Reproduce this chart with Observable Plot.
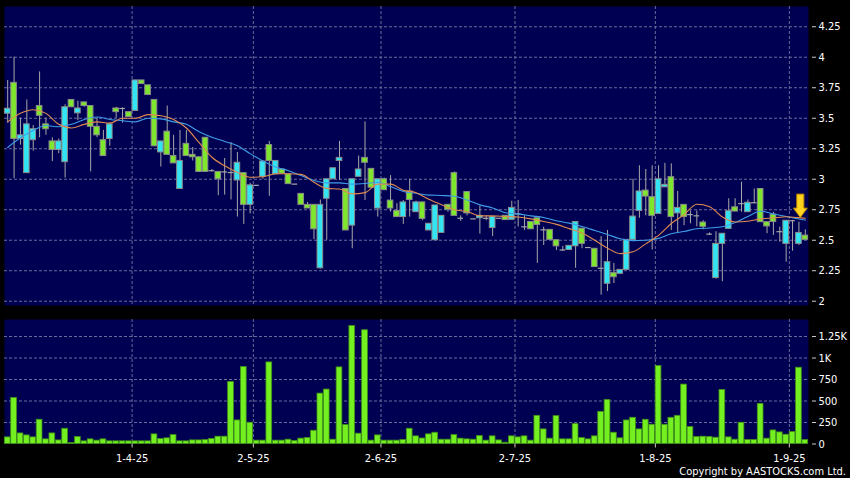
<!DOCTYPE html>
<html><head><meta charset="utf-8">
<script src="https://cdn.jsdelivr.net/npm/d3@7"></script>
<script src="https://cdn.jsdelivr.net/npm/@observablehq/plot@0.6"></script>
<style>
html,body{margin:0;padding:0;background:#000;}
#wrap{position:relative;width:850px;height:478px;background:#000;overflow:hidden;}
#price{position:absolute;left:0;top:0;}
#vol{position:absolute;left:0;top:310px;}
#copy{position:absolute;right:4px;top:466px;line-height:11px;color:#fff;font-size:11px;font-family:"DejaVu Sans Condensed","Liberation Sans",sans-serif;}
</style></head><body>
<div id="wrap"><div id="price"></div><div id="vol"></div><div id="copy">Copyright by AASTOCKS.com Ltd.</div></div>
<script>
// ---- data ----
const opens  = [3.537,3.79,3.33,3.05,3.32,3.60,3.45,3.31,3.24,3.14, 3.65,3.54,3.63,3.60,3.43,3.32,3.33,3.58,3.58,3.55, 3.56,3.81,3.77,3.65,3.22,3.39,3.19,2.92,3.29,3.20, 3.18,3.34,3.07,3.06,3.06,3.055,2.99,3.05,2.79,2.95, 3.02,3.28,3.04,3.08,3.04,2.96,2.88,2.79,2.79,2.27, 2.84,3.00,3.15,2.92,2.62,3.02,3.175,3.085,2.76,3.00, 2.825,2.74,2.69,2.90,2.73,2.81,2.58,2.50,2.56,2.79, 3.05,2.68,2.895,2.675,2.68,2.68,2.60,2.68,2.70,2.667, 2.715,2.61,2.65,2.68,2.585,2.585,2.50,2.42,2.42,2.45, 2.595,2.44,2.43,2.27,2.143,2.23,2.225,2.257,2.503,2.74, 2.907,2.853,2.716,2.934,3.017,2.72,2.79,2.71,2.70,2.645, 2.55,2.19,2.47,2.593,2.77,2.80,2.73,2.807,2.92,2.648, 2.71,2.57,2.47,2.66,2.47,2.538];
const highs  = [3.81,4.00,3.50,3.65,3.44,3.88,3.50,3.34,3.33,3.61, 3.65,3.64,3.63,3.60,3.50,3.40,3.46,3.59,3.585,3.55, 3.81,3.81,3.77,3.65,3.31,3.60,3.36,3.40,3.40,3.26, 3.18,3.34,3.08,3.06,3.17,3.30,3.22,3.05,2.967,2.95, 3.15,3.31,3.15,3.08,3.04,2.96,2.88,2.81,2.79,2.83, 3.00,3.09,3.31,2.92,3.00,3.19,3.47,3.085,3.00,3.01, 3.03,2.80,2.825,3.00,2.82,2.81,2.635,2.785,2.70,2.79, 3.06,2.70,2.895,2.675,2.78,2.70,2.69,2.68,2.70,2.82, 2.826,2.70,2.65,2.68,2.607,2.585,2.50,2.45,2.454,2.65, 2.595,2.44,2.43,2.53,2.58,2.31,2.26,2.503,3.00,3.11, 3.08,3.11,3.11,3.13,3.126,2.90,2.79,2.74,2.74,2.66, 2.56,2.57,2.553,2.84,2.84,2.975,2.83,2.92,2.92,2.648, 2.73,2.607,2.66,2.66,2.648,2.585];
const lows   = [3.46,3.005,3.28,3.05,3.23,3.34,3.36,3.145,3.21,3.01, 3.59,3.48,3.59,3.06,3.34,3.19,3.27,3.50,3.46,3.51, 3.56,3.78,3.69,3.27,3.10,3.20,3.13,2.92,3.19,3.15, 3.06,3.06,3.06,2.865,2.87,2.83,2.69,2.63,2.716,2.95, 3.00,2.86,3.04,3.04,2.96,2.96,2.79,2.76,2.505,2.265, 2.50,3.00,2.99,2.58,2.43,3.02,2.825,2.93,2.69,2.91, 2.73,2.69,2.63,2.69,2.73,2.66,2.58,2.50,2.56,2.73, 2.70,2.655,2.70,2.675,2.55,2.66,2.53,2.68,2.665,2.667, 2.608,2.58,2.59,2.31,2.457,2.503,2.415,2.41,2.42,2.27, 2.43,2.44,2.28,2.05,2.08,2.145,2.22,2.257,2.503,2.68, 2.70,2.42,2.716,2.934,2.58,2.56,2.62,2.634,2.61,2.585, 2.54,2.18,2.16,2.593,2.735,2.73,2.73,2.80,2.648,2.553, 2.54,2.484,2.32,2.41,2.457,2.503];
const closes = [3.578,3.33,3.36,3.45,3.41,3.52,3.41,3.24,3.31,3.59, 3.59,3.58,3.60,3.43,3.36,3.19,3.45,3.55,3.58,3.51, 3.81,3.78,3.69,3.27,3.31,3.20,3.13,3.15,3.19,3.18, 3.06,3.06,3.07,3.00,3.06,3.055,3.135,2.79,2.95,2.95, 3.145,3.15,3.15,3.045,2.96,2.96,2.79,2.76,2.59,2.79, 3.00,3.09,3.175,2.58,3.00,3.08,3.135,2.93,3.00,2.91, 2.76,2.69,2.81,2.83,2.81,2.675,2.635,2.785,2.70,2.75, 2.70,2.68,2.72,2.675,2.70,2.68,2.69,2.68,2.665,2.765, 2.715,2.61,2.59,2.625,2.585,2.503,2.45,2.42,2.454,2.65, 2.47,2.44,2.28,2.27,2.32,2.197,2.257,2.503,2.694,2.90, 2.858,2.70,3.00,2.954,2.69,2.765,2.69,2.71,2.70,2.61, 2.55,2.47,2.553,2.738,2.735,2.80,2.807,2.807,2.648,2.613, 2.65,2.57,2.66,2.66,2.56,2.503];
const volumes = [77,536,123,100,77,282,54,123,42,177, 12,81,31,54,39,54,31,31,31,31, 31,31,31,112,58,66,104,31,31,42, 42,46,58,85,85,721,274,895,247,39, 39,949,39,39,50,35,62,69,154,586, 633,50,891,220,1373,120,1323,39,100,39, 39,39,46,177,89,64,112,131,50,50, 104,62,54,50,93,39,89,42,15,89, 77,89,39,328,170,62,324,54,54,231, 69,54,89,374,513,131,66,274,305,170, 282,224,907,224,305,328,691,197,81,85, 81,73,629,77,50,247,46,46,467,62, 158,135,108,139,887,46];
const maIndex = [0,2,4,6,8,10,12,14,16,18,20,22,24,26,28,30,32,34,36,38,40,42,44,46,48,50,52,54,56,58,60,62,64,66,68,70,72,74,76,78,80,82,84,86,88,90,92,94,96,98,100,102,104,106,108,110,112,114,116,118,120,122,124,125];
const maShort = [3.47,3.54,3.57,3.54,3.45,3.42,3.45,3.47,3.46,3.50,3.50,3.53,3.52,3.49,3.42,3.30,3.18,3.11,3.055,3.016,3.02,3.045,3.045,3.04,2.975,2.925,2.92,2.88,2.89,2.96,2.96,2.91,2.89,2.835,2.79,2.75,2.735,2.70,2.70,2.695,2.69,2.675,2.654,2.63,2.595,2.56,2.50,2.435,2.39,2.405,2.47,2.54,2.637,2.71,2.795,2.775,2.69,2.65,2.655,2.675,2.683,2.692,2.685,2.68];
const maLong  = [3.26,3.34,3.40,3.44,3.43,3.45,3.49,3.51,3.49,3.48,3.47,3.50,3.495,3.47,3.45,3.39,3.345,3.31,3.275,3.21,3.15,3.10,3.07,3.03,2.99,2.97,2.97,2.96,2.965,2.975,2.94,2.90,2.885,2.87,2.867,2.86,2.83,2.79,2.765,2.725,2.716,2.70,2.687,2.66,2.64,2.613,2.58,2.547,2.512,2.497,2.50,2.515,2.553,2.572,2.594,2.60,2.61,2.645,2.695,2.738,2.715,2.695,2.674,2.665];
const tickIndex  = [20,39,59,80,102,123];
const tickLabels = ["1-4-25","2-5-25","2-6-25","2-7-25","1-8-25","1-9-25"];
const priceTicks = [2,2.25,2.5,2.75,3,3.25,3.5,3.75,4,4.25];
const volumeTicks = [0,250,500,750,1000,1250];
const arrowPrice = 2.784;

// ---- build tables ----
const candles = opens.map((o, i) => ({i, open:o, high:highs[i], low:lows[i], close:closes[i], volume:volumes[i]}));
const up = candles.filter(d => d.close > d.open);
const down = candles.filter(d => d.close < d.open);
const doji = candles.filter(d => d.close === d.open);
const maS = maIndex.map((i,k) => ({i, v:maShort[k]}));
const maL = maIndex.map((i,k) => ({i, v:maLong[k]}));
const tickPos = tickIndex.map(i => i - 0.5);
const labelMap = new Map(tickPos.map((p,k) => [p, tickLabels[k]]));

const NAVY = "#000052", CYAN = "#33e4f2", GREEN = "#7ee62c", EDGE = "#8c8c8c", WICK = "#a8a8a8", GRID = "#6a6a9c";
const FONT = '"DejaVu Sans Condensed","Liberation Sans",sans-serif';
const HW = 0.44;
const xDomain = [-0.5, candles.length - 0.5];

const arrowSymbol = {
  draw(ctx) {
    ctx.moveTo(-3.6,-11.5); ctx.lineTo(3.6,-11.5); ctx.lineTo(3.6,2.5);
    ctx.lineTo(7,2.5); ctx.lineTo(0,12); ctx.lineTo(-7,2.5); ctx.lineTo(-3.6,2.5); ctx.closePath();
  }
};

const price = Plot.plot({
  width: 850, height: 310,
  marginLeft: 4, marginRight: 42, marginTop: 6, marginBottom: 5,
  style: {background: "transparent", color: "#fff", fontSize: "11px", fontFamily: FONT, overflow: "visible"},
  x: {type: "linear", domain: xDomain, axis: null},
  y: {domain: [1.965, 4.416], axis: null, label: null},
  marks: [
    Plot.frame({fill: NAVY}),
    Plot.gridY(priceTicks, {stroke: GRID, strokeOpacity: 1, strokeDasharray: "3,2"}),
    Plot.gridX(tickPos, {stroke: GRID, strokeOpacity: 1, strokeDasharray: "3,2"}),
    Plot.ruleX(candles, {x: "i", y1: "low", y2: "high", stroke: WICK, strokeWidth: 1}),
    Plot.rect(up, {x1: d => d.i - HW, x2: d => d.i + HW, y1: "open", y2: "close", fill: CYAN, stroke: EDGE, strokeWidth: 1}),
    Plot.rect(down, {x1: d => d.i - HW, x2: d => d.i + HW, y1: "open", y2: "close", fill: GREEN, stroke: EDGE, strokeWidth: 1}),
    Plot.ruleY(doji, {x1: d => d.i - HW, x2: d => d.i + HW, y: "close", stroke: WICK, strokeWidth: 1.2}),
    Plot.line(maL, {x: "i", y: "v", stroke: "#3f9de8", strokeWidth: 1.1, curve: "monotone-x"}),
    Plot.line(maS, {x: "i", y: "v", stroke: "#e08a50", strokeWidth: 1.1, curve: "monotone-x"}),
    Plot.dot([{i: candles.length - 1, y: arrowPrice}], {x: "i", y: "y", dx: -5, symbol: arrowSymbol, r: 10, fill: "#ffd21e", stroke: "#b07c00", strokeWidth: 1}),
    Plot.axisY(priceTicks, {anchor: "right", label: null, tickSize: 4, tickPadding: 3, dx: 3, tickFormat: d => String(d), stroke: "#ccc"})
  ]
});
document.getElementById("price").appendChild(price);

const vol = Plot.plot({
  width: 850, height: 168,
  marginLeft: 4, marginRight: 42, marginTop: 9, marginBottom: 34.5,
  style: {background: "transparent", color: "#fff", fontSize: "11px", fontFamily: FONT, overflow: "visible"},
  x: {type: "linear", domain: xDomain, axis: null, label: null},
  y: {domain: [0, 1448], axis: null, label: null},
  marks: [
    Plot.frame({fill: NAVY}),
    Plot.gridY(volumeTicks.filter(v => v > 0), {stroke: GRID, strokeOpacity: 1, strokeDasharray: "3,2"}),
    Plot.gridX(tickPos, {stroke: GRID, strokeOpacity: 1, strokeDasharray: "3,2"}),
    Plot.rect(candles, {x1: d => d.i - 0.45, x2: d => d.i + 0.45, y1: 0, y2: "volume", fill: "#74f020", stroke: "#3f8f18", strokeWidth: 0.8}),
    Plot.axisY(volumeTicks, {anchor: "right", label: null, tickSize: 4, tickPadding: 3, dx: 3, tickFormat: d => d >= 1000 ? (d/1000) + "K" : String(d), stroke: "#ccc"}),
    Plot.axisX(tickPos, {anchor: "bottom", label: null, tickSize: 4, tickPadding: 6, tickFormat: d => labelMap.get(d), stroke: "#ccc"})
  ]
});
document.getElementById("vol").appendChild(vol);
</script>
</body></html>
